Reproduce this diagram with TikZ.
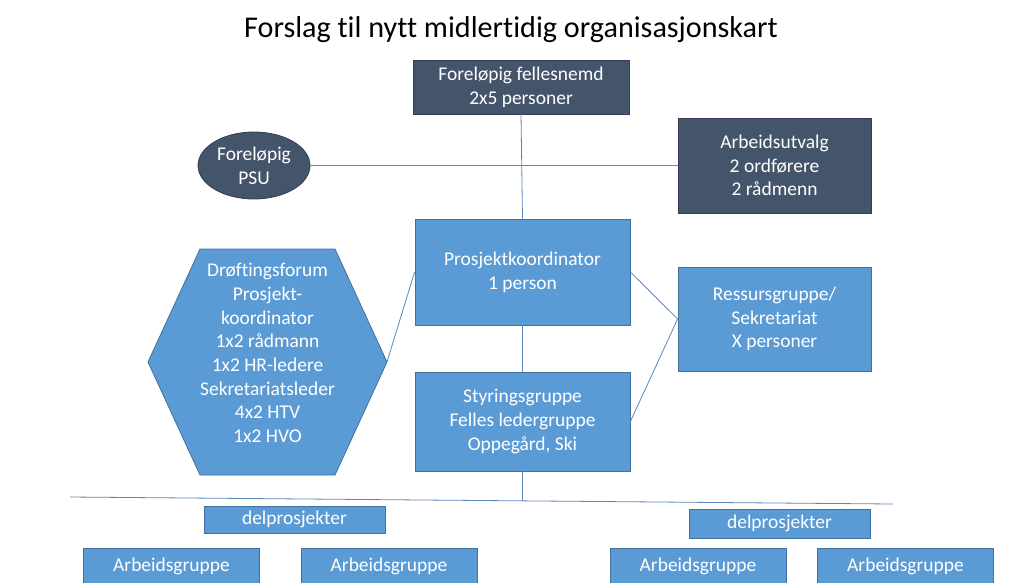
\documentclass[tikz,border=0pt]{standalone}
\usepackage{fontspec}
\setmainfont{Carlito}[Ligatures=NoCommon]
\usetikzlibrary{shapes.geometric}
\definecolor{darkbox}{HTML}{44546A}
\definecolor{darkedge}{HTML}{333F50}
\definecolor{bluebox}{HTML}{5B9BD5}
\definecolor{blueedge}{HTML}{41719C}
\definecolor{conn}{HTML}{5A87B8}
\tikzset{
  boxtext/.style={font=\fontsize{14.6}{17.8}\selectfont, text=white, align=center},
  darkrect/.style={boxtext, rectangle, fill=darkbox, draw=darkedge, line width=0.6pt, inner sep=0pt},
  bluerect/.style={boxtext, rectangle, fill=bluebox, draw=blueedge, line width=0.6pt, inner sep=0pt},
  connector/.style={draw=conn, line width=0.6pt},
}
\begin{document}
\begin{tikzpicture}[x=0.75pt,y=-0.75pt]
\useasboundingbox (0,0) rectangle (1023,582);
\clip (0,0) rectangle (1023,582);
% title
\node (title) [font=\fontsize{22.6}{26}\selectfont, text=black] at (511,30) {Forslag til nytt midlertidig organisasjonskart};
% top level
\node (fn) [darkrect, minimum width=216*0.75pt, minimum height=54*0.75pt] at (521,87) {Foreløpig fellesnemd\\2x5 personer};
\node (psu) [darkrect, ellipse, minimum width=112*0.75pt, minimum height=67*0.75pt] at (254,165.5) {Foreløpig\\PSU};
\node (au) [darkrect, minimum width=193*0.75pt, minimum height=95*0.75pt] at (774.5,165.5) {Arbeidsutvalg\\2 ordførere\\2 rådmenn};
% middle
\node (pk) [bluerect, minimum width=215*0.75pt, minimum height=106*0.75pt] at (522.5,272) {Prosjektkoordinator\\1 person};
\node (sg) [bluerect, minimum width=215*0.75pt, minimum height=99*0.75pt] at (522.5,421.5) {Styringsgruppe\\Felles ledergruppe\\Oppegård, Ski};
\node (rg) [bluerect, minimum width=193*0.75pt, minimum height=104*0.75pt] at (774.5,319) {Ressursgruppe/\\Sekretariat\\X personer};
% hexagon
\coordinate (hl) at (148,362);
\coordinate (htl) at (200,249);
\coordinate (htr) at (335,249);
\coordinate (hr) at (387,362);
\coordinate (hbr) at (335,475);
\coordinate (hbl) at (200,475);
\filldraw[fill=bluebox, draw=blueedge, line width=0.6pt] (hl) -- (htl) -- (htr) -- (hr) -- (hbr) -- (hbl) -- cycle;
\node (hex) [boxtext] at (267.5,353) {Drøftingsforum\\Prosjekt-\\koordinator\\1x2 rådmann\\1x2 HR-ledere\\Sekretariatsleder\\4x2 HTV\\1x2 HVO};
% connectors
\draw[connector] (fn.south) -- (pk.north);
\draw[connector] (psu.east) -- (au.west);
\draw[connector] (pk.south) -- (sg.north);
\draw[connector] (pk.east) -- (rg.west);
\draw[connector] (sg.east) -- (rg.west);
\draw[connector] (hr) -- (pk.west);
\coordinate (lineL) at (70,497);
\coordinate (lineR) at (893,504);
\draw[connector] (lineL) -- (lineR);
\coordinate (sgfoot) at (522.5,500.5);
\draw[connector] (sg.south) -- (sgfoot);
% bottom
\node (dp1) [bluerect, minimum width=181*0.75pt, minimum height=27*0.75pt] at (294.5,519.5) {delprosjekter};
\node (dp2) [bluerect, minimum width=181*0.75pt, minimum height=29*0.75pt] at (779.5,523.5) {delprosjekter};
\node (ag1) [bluerect, minimum width=176*0.75pt, minimum height=36*0.75pt, anchor=north] at (171.5,548) {Arbeidsgruppe};
\node (ag2) [bluerect, minimum width=176*0.75pt, minimum height=36*0.75pt, anchor=north] at (389,548) {Arbeidsgruppe};
\node (ag3) [bluerect, minimum width=176*0.75pt, minimum height=36*0.75pt, anchor=north] at (698,548) {Arbeidsgruppe};
\node (ag4) [bluerect, minimum width=176*0.75pt, minimum height=36*0.75pt, anchor=north] at (905.5,548) {Arbeidsgruppe};
\end{tikzpicture}
\end{document}
